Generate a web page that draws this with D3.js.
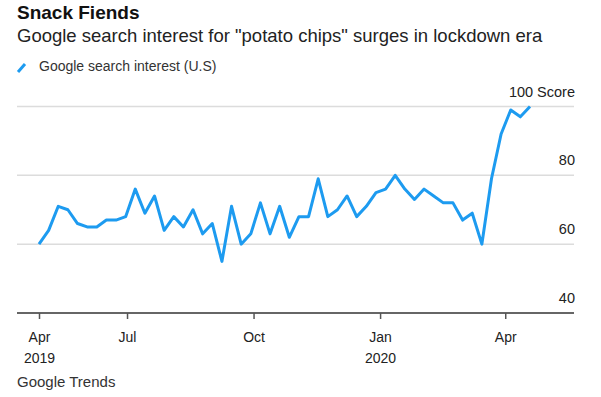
<!DOCTYPE html>
<html lang="en">
<meta charset="utf-8">
<head>
    <script src='https://d3js.org/d3.v7.min.js'></script>
    <style>
        body { margin: 0; background: #fff; }
        text { font-family: "Liberation Sans", Arial, sans-serif; }
    </style>
</head>
<body>
<script>

// weekly google trends data (week starting)
var weeks = ["2019-04-28","2019-05-05","2019-05-12","2019-05-19","2019-05-26",
    "2019-06-02","2019-06-09","2019-06-16","2019-06-23","2019-06-30",
    "2019-07-07","2019-07-14","2019-07-21","2019-07-28","2019-08-04",
    "2019-08-11","2019-08-18","2019-08-25","2019-09-01","2019-09-08",
    "2019-09-15","2019-09-22","2019-09-29","2019-10-06","2019-10-13",
    "2019-10-20","2019-10-27","2019-11-03","2019-11-10","2019-11-17",
    "2019-11-24","2019-12-01","2019-12-08","2019-12-15","2019-12-22",
    "2019-12-29","2020-01-05","2020-01-12","2020-01-19","2020-01-26",
    "2020-02-02","2020-02-09","2020-02-16","2020-02-23","2020-03-01",
    "2020-03-08","2020-03-15","2020-03-22","2020-03-29","2020-04-05",
    "2020-04-12","2020-04-19"]
var interest = [60,64,71,70,66,65,65,67,67,68,
    76,69,74,64,68,65,70,63,66,55,
    71,60,63,72,63,71,62,68,68,79,
    68,70,74,68,71,75,76,80,76,73,
    76,74,72,72,67,69,60,79,92,99,
    97,100]

var tickDates = ["2019-04-28","2019-07-01","2019-10-01","2020-01-01","2020-04-01"]
var monthLabels = ["Apr","Jul","Oct","Jan","Apr"]
var yearLabels = ["2019","","","2020",""]
var yTicks = [40, 60, 80, 100]

var parse = d3.timeParse("%Y-%m-%d")
var data = weeks.map(function(w, i) { return {x: parse(w), y: interest[i]} })

var width = 601, height = 397
var blue = "#1d9bf0"

var svg = d3.select("body")
    .append("svg")
    .attr("width", width)
    .attr("height", height)

// title
svg.append("text")
    .attr("x", 17).attr("y", 19)
    .style("font-size", "19px")
    .style("font-weight", "bold")
    .attr("fill", "#111")
    .text("Snack Fiends")

svg.append("text")
    .attr("x", 17).attr("y", 42)
    .style("font-size", "18.5px")
    .attr("fill", "#222")
    .text("Google search interest for \"potato chips\" surges in lockdown era")

// legend
svg.append("line")
    .attr("x1", 18).attr("y1", 72)
    .attr("x2", 25).attr("y2", 64)
    .attr("stroke", blue)
    .attr("stroke-width", 3)
svg.append("text")
    .attr("x", 39).attr("y", 71)
    .style("font-size", "14px")
    .attr("fill", "#333")
    .text("Google search interest (U.S)")

// scales
var x = d3.scaleTime()
    .domain([parse("2019-04-12"), parse("2020-05-21")])
    .range([17, 574])

var y = d3.scaleLinear()
    .domain([40, 100])
    .range([313, 106.5])

// gridlines
svg.append("g")
    .selectAll("line")
    .data(yTicks.filter(function(d) { return d > 40 }))
    .enter()
    .append("line")
    .attr("x1", 17).attr("x2", 574)
    .attr("y1", function(d) { return y(d) })
    .attr("y2", function(d) { return y(d) })
    .attr("stroke", "#dcdcdc")
    .attr("stroke-width", 1.5)

// y labels
svg.append("g")
    .selectAll("text")
    .data(yTicks)
    .enter()
    .append("text")
    .attr("x", 575)
    .attr("y", function(d) { return y(d) - 10 })
    .attr("text-anchor", "end")
    .style("font-size", "14.5px")
    .attr("fill", "#222")
    .text(function(d) { return d == 100 ? "100 Score" : d })

// x axis
var tickX = tickDates.map(parse)
var xAxis = svg.append("g")
    .attr("transform", "translate(0," + y(40) + ")")
    .call(d3.axisBottom(x)
        .tickValues(tickX)
        .tickSize(6)
        .tickFormat(function(d, i) { return monthLabels[i] }))
xAxis.select(".domain")
    .attr("d", "M17,0H574")
    .attr("stroke", "#666")
    .attr("stroke-width", 2)
xAxis.selectAll(".tick line")
    .attr("stroke", "#555")
    .attr("stroke-width", 1.5)
xAxis.selectAll(".tick text")
    .attr("y", 29)
    .attr("dy", 0)
    .style("font-size", "14px")
    .style("font-family", "Liberation Sans, Arial, sans-serif")
    .attr("fill", "#222")
xAxis.selectAll(".tick")
    .append("text")
    .attr("y", 50)
    .attr("text-anchor", "middle")
    .style("font-size", "14px")
    .attr("fill", "#222")
    .text(function(d, i) { return yearLabels[i] })

// line
svg.append("path")
    .datum(data)
    .attr("fill", "none")
    .attr("stroke", blue)
    .attr("stroke-width", 3)
    .attr("stroke-linejoin", "round")
    .attr("d", d3.line()
        .x(function(d) { return x(d.x) })
        .y(function(d) { return y(d.y) })
    )

// source
svg.append("text")
    .attr("x", 17).attr("y", 387)
    .style("font-size", "15px")
    .attr("fill", "#333")
    .text("Google Trends")

</script>
</body>
</html>
